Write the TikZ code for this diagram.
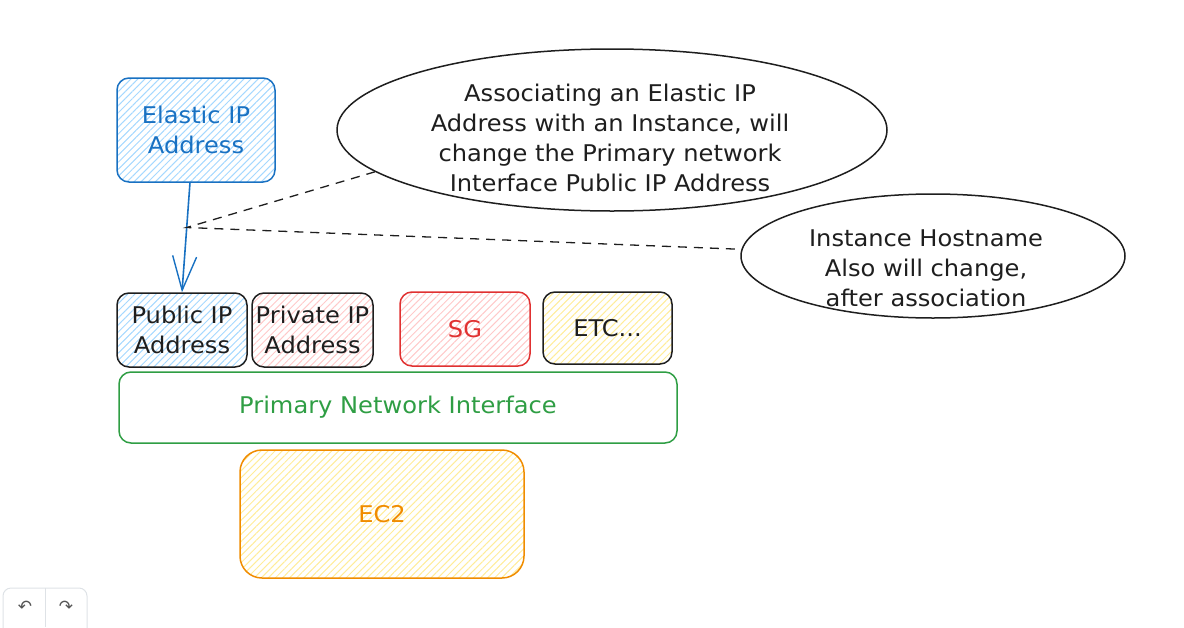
\documentclass[tikz,border=0pt]{standalone}
\usepackage{fontspec}
\setmainfont{DejaVu Sans}[FakeStretch=1.05]
\newfontfamily\uifont{DejaVu Sans}
\usetikzlibrary{patterns.meta,arrows.meta,shapes.geometric,calc}
\definecolor{ink}{HTML}{1E1E1E}
\definecolor{eblue}{HTML}{1971C2}
\definecolor{hblue}{HTML}{A5D8FF}
\definecolor{ered}{HTML}{E03131}
\definecolor{hred}{HTML}{FFC9C9}
\definecolor{hyellow}{HTML}{FFEC99}
\definecolor{egreen}{HTML}{2F9E44}
\definecolor{eorange}{HTML}{F08C00}
\definecolor{uigray}{HTML}{DEE2E6}
\definecolor{uiink}{HTML}{555555}
\begin{document}
\begin{tikzpicture}[x=1pt,y=-1pt,
  txt/.style={font=\fontsize{23}{30}\selectfont, align=center, text=ink, inner sep=0pt},
  box/.style={draw=ink, rounded corners=12pt, line width=1.5pt, inner sep=0pt,
    align=center, font=\fontsize{23}{30}\selectfont, text=ink},
  hatch/.style={pattern={Lines[angle=45,distance=5pt,line width=1pt]}, pattern color=#1},
  bubble/.style={draw=ink, ellipse, line width=1.5pt, inner sep=0pt}
]
\useasboundingbox (0,0) rectangle (1184,627);

% Elastic IP
\node[box, draw=eblue, text=eblue, hatch=hblue, minimum width=158pt, minimum height=104pt]
  (eip) at (196,130) {Elastic IP\\Address};

% row of boxes
\node[box, hatch=hblue, minimum width=130pt, minimum height=74pt] (pub) at (182,330) {Public IP\\Address};
\node[box, hatch=hred, minimum width=121pt, minimum height=74pt] (priv) at (312.5,330) {Private IP\\Address};
\node[box, draw=ered, text=ered, hatch=hred, minimum width=130pt, minimum height=74pt] (sg) at (465,329) {SG};
\node[box, hatch=hyellow, minimum width=129pt, minimum height=72pt] (etc) at (607.5,328) {ETC...};

% primary network interface
\node[box, draw=egreen, text=egreen, fill=white, minimum width=558pt, minimum height=71pt]
  (pni) at (398,407.5) {Primary Network Interface};

% EC2
\node[box, draw=eorange, text=eorange, hatch=hyellow, rounded corners=22pt, minimum width=284pt, minimum height=128pt]
  (ec2) at (382,514) {EC2};

% bubbles
\node[bubble, minimum width=550pt, minimum height=162pt] (e1) at (612,130) {};
\node[txt] (e1t) at (610,138) {Associating an Elastic IP\\Address with an Instance, will\\change the Primary network\\Interface Public IP Address};
\node[bubble, minimum width=384pt, minimum height=124pt] (e2) at (933,256) {};
\node[txt] (e2t) at (926,268) {Instance Hostname\\Also will change,\\after association};

% arrow
\draw[eblue, line width=1.6pt, -{Straight Barb[length=34pt,width=24pt,line width=1.4pt]}]
  ([xshift=-6pt]eip.south) -- (pub.north);
\coordinate (m) at ($([xshift=-6pt]eip.south)!0.41!(pub.north)$);

% dashed connectors
\draw[ink, line width=1.3pt, dash pattern=on 9pt off 7pt] (e1.190) -- (m) -- (e2.178);

% undo / redo controls
\begin{scope}
  \clip (0,0) rectangle (1184,627);
  \draw[uigray, line width=1pt, rounded corners=8pt] (3,588) rectangle (87,640);
  \draw[uigray, line width=1pt] (45,588) -- (45,627);
\end{scope}
\node[text=uiink, font=\uifont\fontsize{17}{17}\selectfont] (undo) at (25,607) {↶};
\node[text=uiink, font=\uifont\fontsize{17}{17}\selectfont] (redo) at (66,607) {↷};
\end{tikzpicture}
\end{document}
